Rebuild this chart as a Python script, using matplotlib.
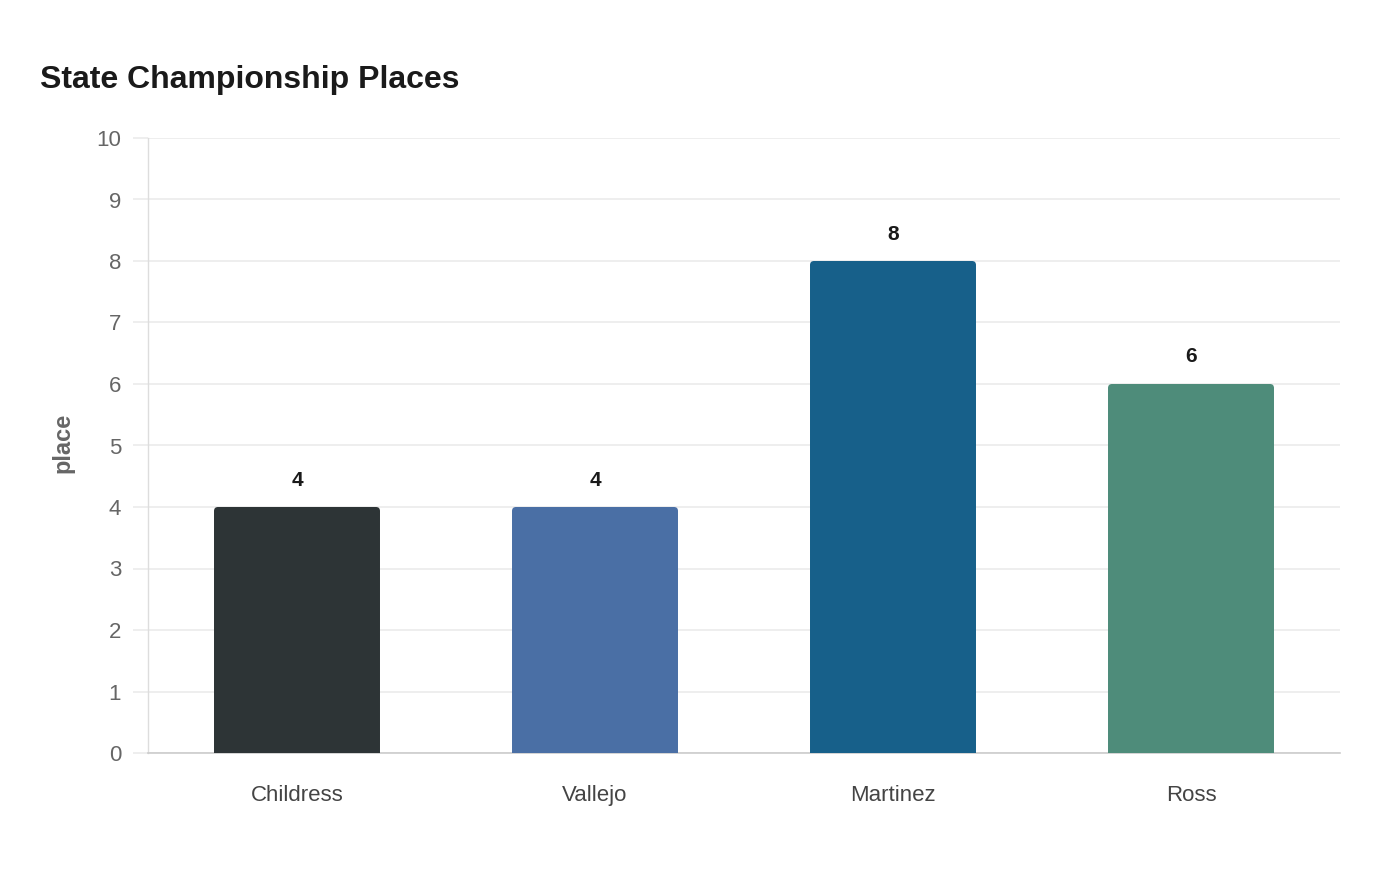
import matplotlib
matplotlib.use("Agg")
import matplotlib.pyplot as plt
from matplotlib.patches import FancyBboxPatch

categories = ["Childress", "Vallejo", "Martinez", "Ross"]
places = [4, 4, 8, 6]
colors = ["#2d3436", "#4a6fa5", "#17608a", "#4e8c7a"]
yticks = list(range(0, 11))

plt.rcParams['font.family'] = ['Liberation Sans', 'DejaVu Sans']

W, H = 1400, 880
fig = plt.figure(figsize=(14, 8.8), dpi=100)
ax = fig.add_axes([148 / W, 1 - 753 / H, (1340 - 148) / W, (753 - 138) / H])

ax.set_xlim(-0.5, len(categories) - 0.5)
ax.set_ylim(0, 10)

bar_w = 0.557
# data units per pixel
xpp = (len(categories)) / (1340 - 148)
ypp = 10 / (753 - 138)
radius_px = 4
aspect = ypp / xpp
for i, (v, c) in enumerate(zip(places, colors)):
    bottom = -0.5
    p = FancyBboxPatch((i - bar_w / 2, bottom), bar_w, v - bottom,
                       boxstyle=f"round,pad=0,rounding_size={radius_px * xpp}",
                       mutation_aspect=aspect, facecolor=c, edgecolor="none",
                       zorder=3, clip_on=True)
    ax.add_patch(p)
    ax.annotate(str(v), xy=(i, v), xytext=(0, 27), textcoords="offset pixels",
                ha="center", va="center", fontsize=15, fontweight="bold",
                color="#1a1a1a", zorder=4)

ax.set_xticks(range(len(categories)))
ax.set_xticklabels(categories)
ax.set_yticks(yticks)
ax.set_yticklabels([str(t) for t in yticks])

ax.grid(axis="y", color="#ebebeb", linewidth=1.2, zorder=0)
ax.set_axisbelow(True)

for s in ["top", "right"]:
    ax.spines[s].set_visible(False)
ax.spines["left"].set_color("#dddddd")
ax.spines["left"].set_linestyle((0, (1, 1)))
ax.spines["left"].set_linewidth(1)
ax.spines["bottom"].set_color("#cccccc")
ax.spines["bottom"].set_linewidth(1.2)

ax.tick_params(axis="x", length=0, pad=23, labelsize=16, labelcolor="#444444")
ax.tick_params(axis="y", length=10.8, width=1.2, color="#ebebeb", pad=8.6,
               labelsize=16, labelcolor="#666666")

fig.text(63 / W, 1 - 443 / H, "place", rotation=90, ha="center", va="center",
         fontsize=17, fontweight="bold", color="#666666")
fig.text(40 / W, 1 - 80 / H, "State Championship Places", ha="left", va="center",
         fontsize=23, fontweight="bold", color="#1a1a1a")

fig.savefig("out.png", dpi=100, facecolor="white")
